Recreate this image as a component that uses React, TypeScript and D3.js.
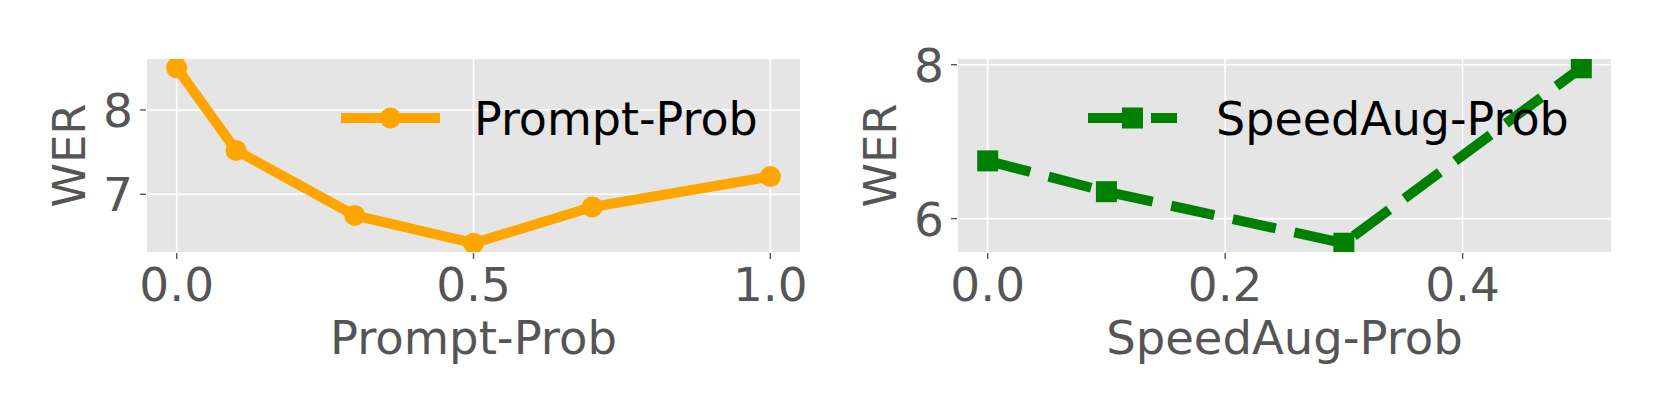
import React from "react";
import * as d3 from "d3";

const promptX = [0.0, 0.1, 0.3, 0.5, 0.7, 1.0];
const promptWER = [8.5, 7.52, 6.75, 6.42, 6.85, 7.21];
const speedX = [0.0, 0.1, 0.3, 0.5];
const speedWER = [6.75, 6.35, 5.68, 7.96];
const promptXTicks = [0.0, 0.5, 1.0];
const promptYTicks = [7, 8];
const speedXTicks = [0.0, 0.2, 0.4];
const speedYTicks = [6, 8];

const W = 1661;
const H = 415;
const FONT = "DejaVu Sans";
const GREY = "#555555";
const BG = "#E5E5E5";

function pad(ext: [number, number]): [number, number] {
  const r = ext[1] - ext[0];
  return [ext[0] - 0.05 * r, ext[1] + 0.05 * r];
}

type PanelProps = {
  id: string;
  left: number;
  right: number;
  top: number;
  bottom: number;
  xs: number[];
  ys: number[];
  xTicks: number[];
  yTicks: number[];
  xFmt: (v: number) => string;
  xLabel: string;
  color: string;
  dashed: boolean;
  marker: "circle" | "square";
  legendX0: number;
  legendX1: number;
  legendTextX: number;
};

function Panel(p: PanelProps) {
  const x = d3
    .scaleLinear()
    .domain(pad(d3.extent(p.xs) as [number, number]))
    .range([p.left, p.right]);
  const y = d3
    .scaleLinear()
    .domain(pad(d3.extent(p.ys) as [number, number]))
    .range([p.bottom, p.top]);
  const line = d3
    .line<number>()
    .x((_, i) => x(p.xs[i]))
    .y((d) => y(d));
  const lw = 10;
  const dash = p.dashed ? "44,19" : undefined;
  const ms = 21;
  const legendY = 118;
  const midLegend = (p.legendX0 + p.legendX1) / 2;
  const drawMarker = (cx: number, cy: number, key: string | number) =>
    p.marker === "circle" ? (
      <circle key={key} cx={cx} cy={cy} r={ms / 2} fill={p.color} />
    ) : (
      <rect key={key} x={cx - ms / 2} y={cy - ms / 2} width={ms} height={ms} fill={p.color} />
    );
  const midX = (p.left + p.right) / 2;
  const midY = (p.top + p.bottom) / 2;
  return (
    <g>
      <defs>
        <clipPath id={p.id}>
          <rect x={p.left} y={p.top} width={p.right - p.left} height={p.bottom - p.top} />
        </clipPath>
      </defs>
      <rect x={p.left} y={p.top} width={p.right - p.left} height={p.bottom - p.top} fill={BG} />
      {p.xTicks.map((t) => (
        <line key={"gx" + t} x1={x(t)} x2={x(t)} y1={p.top} y2={p.bottom} stroke="#fff" strokeWidth={1.6} />
      ))}
      {p.yTicks.map((t) => (
        <line key={"gy" + t} x1={p.left} x2={p.right} y1={y(t)} y2={y(t)} stroke="#fff" strokeWidth={1.6} />
      ))}
      {p.xTicks.map((t) => (
        <g key={"tx" + t}>
          <line x1={x(t)} x2={x(t)} y1={p.bottom + 1} y2={p.bottom + 7} stroke={GREY} strokeWidth={1.4} />
          <text x={x(t)} y={301} textAnchor="middle" fontFamily={FONT} fontSize={47} fill={GREY}>
            {p.xFmt(t)}
          </text>
        </g>
      ))}
      {p.yTicks.map((t) => (
        <g key={"ty" + t}>
          <line x1={p.left - 7} x2={p.left - 1} y1={y(t)} y2={y(t)} stroke={GREY} strokeWidth={1.4} />
          <text x={p.left - 14} y={y(t) + 17} textAnchor="end" fontFamily={FONT} fontSize={47} fill={GREY}>
            {String(t)}
          </text>
        </g>
      ))}
      <g clipPath={`url(#${p.id})`}>
        <path d={line(p.ys) || ""} fill="none" stroke={p.color} strokeWidth={lw} strokeDasharray={dash} strokeLinejoin="round" />
        {p.ys.map((v, i) => drawMarker(x(p.xs[i]), y(v), i))}
      </g>
      <line x1={p.legendX0} x2={p.legendX1} y1={legendY} y2={legendY} stroke={p.color} strokeWidth={lw} strokeDasharray={dash} />
      {drawMarker(midLegend, legendY, "lg")}
      <text x={p.legendTextX} y={135} fontFamily={FONT} fontSize={46} fill="#000">
        {p.xLabel}
      </text>
      <text x={midX} y={354} textAnchor="middle" fontFamily={FONT} fontSize={46.5} fill={GREY}>
        {p.xLabel}
      </text>
      <text
        transform={`translate(${p.left - 62},${midY}) rotate(-90)`}
        textAnchor="middle"
        fontFamily={FONT}
        fontSize={45}
        fill={GREY}
      >
        WER
      </text>
    </g>
  );
}

export default function App() {
  return (
    <svg width={W} height={H} style={{ position: "absolute", left: 0, top: 0, background: "#fff" }}>
      <Panel
        id="clipA"
        left={147}
        right={800}
        top={59}
        bottom={252}
        xs={promptX}
        ys={promptWER}
        xTicks={promptXTicks}
        yTicks={promptYTicks}
        xFmt={(v) => v.toFixed(1)}
        xLabel="Prompt-Prob"
        color="orange"
        dashed={false}
        marker="circle"
        legendX0={341}
        legendX1={440}
        legendTextX={474}
      />
      <Panel
        id="clipB"
        left={958}
        right={1611}
        top={59}
        bottom={252}
        xs={speedX}
        ys={speedWER}
        xTicks={speedXTicks}
        yTicks={speedYTicks}
        xFmt={(v) => v.toFixed(1)}
        xLabel="SpeedAug-Prob"
        color="green"
        dashed={true}
        marker="square"
        legendX0={1088}
        legendX1={1177}
        legendTextX={1216}
      />
    </svg>
  );
}
